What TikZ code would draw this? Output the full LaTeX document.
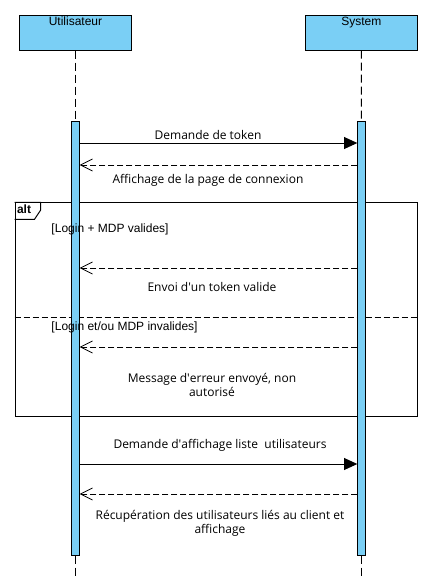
\documentclass[tikz,border=0pt]{standalone}
\usepackage{fontspec}
\setmainfont{Open Sans}
\newfontfamily\headfont{Liberation Sans}
\usepackage{xcolor}
\usetikzlibrary{arrows.meta,positioning}
\definecolor{lifeblue}{HTML}{7ACFF5}

\begin{document}
\begin{tikzpicture}[x=0.75pt,y=-0.75pt,line width=0.75pt,
  actor/.style={rectangle, draw, fill=lifeblue, minimum width=84pt, minimum height=26.25pt, inner sep=0pt},
  activ/.style={rectangle, draw, fill=lifeblue, minimum width=5.5pt, minimum height=325pt, inner sep=0pt},
  lifeline/.style={dash pattern=on 6pt off 3pt},
  call/.style={-{Triangle[length=10pt,width=9pt]}},
  reply/.style={dash pattern=on 4.5pt off 2.25pt, -{Straight Barb[length=9pt,width=9pt,line width=0.6pt]}},
  msg/.style={font=\fontsize{9}{10.5}\selectfont, align=center, inner sep=0pt},
  guard/.style={font=\headfont\fontsize{9}{11}\selectfont, anchor=west, inner sep=0pt}]
\useasboundingbox (0,0) rectangle (435,587);

% alt fragment (behind the bars)
\node[rectangle, draw, minimum width=301.5pt, minimum height=160pt, inner sep=0pt] (frame) at (216,309.5) {};
\draw (frame.north west) -- ++(26,0) -- ++(0,8) -- ++(-6,9) -- ++(-20,0);
\node[font=\headfont\bfseries\fontsize{9}{11}\selectfont, anchor=north west, inner sep=1.5pt] (alt) at (frame.north west) {alt};
\coordinate (split) at (0,317);
\draw[dash pattern=on 4.5pt off 2.25pt] (frame.west |- split) -- (frame.east |- split);

% participants
\node[actor, label={[font=\headfont\fontsize{9}{11}\selectfont, anchor=north, inner sep=1.5pt]north:Utilisateur}] (user) at (75.5,32.5) {};
\node[actor, label={[font=\headfont\fontsize{9}{11}\selectfont, anchor=north, inner sep=1.5pt]north:System}] (sys) at (361.3,32.5) {};

\node[activ] (ua) at (75.5,338.5) {};
\node[activ] (sa) at (361.5,338.5) {};
\coordinate (uend) at (75.5,576);
\coordinate (send) at (361.5,576);
\draw[lifeline] (user) -- (ua);
\draw[lifeline] (sys) -- (sa);
\draw[lifeline] (ua) -- (uend);
\draw[lifeline] (sa) -- (send);

% messages
\coordinate (m1) at (0,143);
\coordinate (m2) at (0,165);
\coordinate (m3) at (0,268);
\coordinate (m4) at (0,347);
\coordinate (m5) at (0,464);
\coordinate (m6) at (0,494);

\draw[call] (ua.east |- m1) -- (sa.west |- m1);
\draw[reply] (sa.west |- m2) -- (ua.east |- m2);
\draw[reply] (sa.west |- m3) -- (ua.east |- m3);
\draw[reply] (sa.west |- m4) -- (ua.east |- m4);
\draw[call] (ua.east |- m5) -- (sa.west |- m5);
\draw[reply] (sa.west |- m6) -- (ua.east |- m6);

\node[msg] (l1) at (208,135) {Demande de token};
\node[msg] (l2) at (208,180) {Affichage de la page de connexion};
\node[guard] (g1) at (51,229) {[Login + MDP valides]};
\node[msg] (l3) at (212,287) {Envoi d\textquotesingle un token valide};
\node[guard] (g2) at (51,327) {[Login et/ou MDP invalides]};
\node[msg] (l4) at (212,385) {Message d\textquotesingle erreur envoyé, non\\autorisé};
\node[msg] (l5) at (220,445) {Demande d\textquotesingle affichage liste~~utilisateurs};
\node[msg] (l6) at (220,523) {Récupération des utilisateurs liés au client et\\affichage};
\end{tikzpicture}
\end{document}
